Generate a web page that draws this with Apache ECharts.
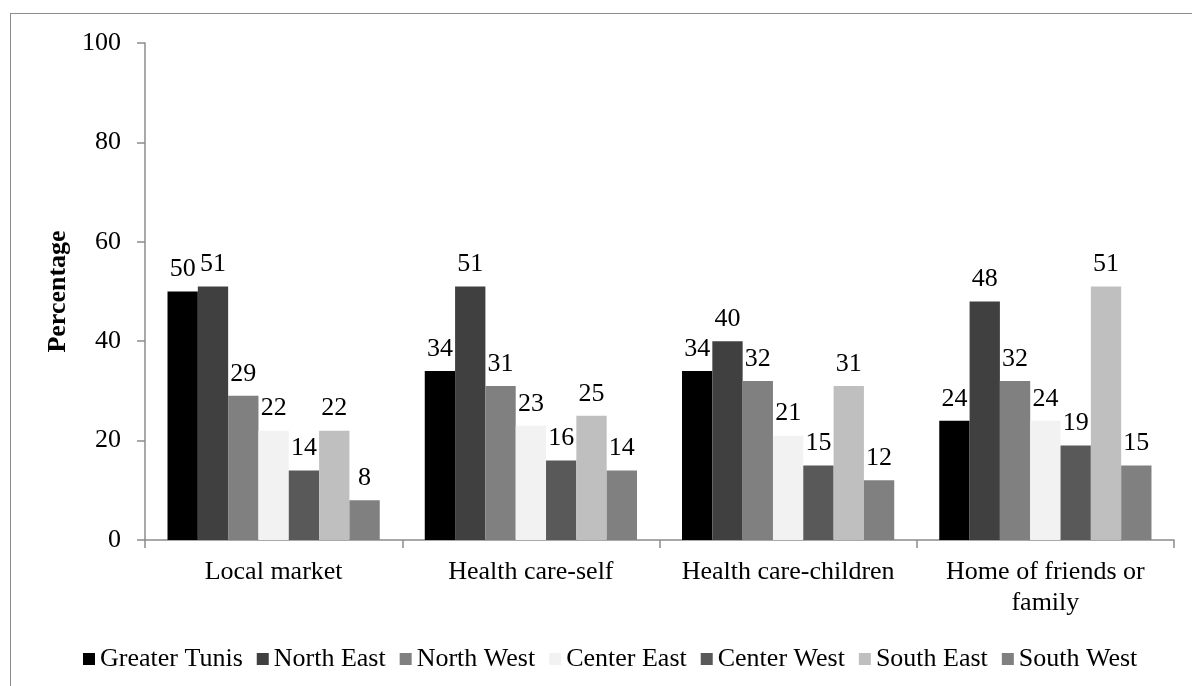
<!DOCTYPE html>
<html><head><meta charset="utf-8">
<script src="https://cdn.jsdelivr.net/npm/echarts@6/dist/echarts.min.js"></script>
<style>html,body{margin:0;padding:0;background:#fff;overflow:hidden}#frame{position:absolute;left:10px;top:13px;width:1200px;height:700px;border:1.5px solid #8c8c8c;box-sizing:border-box}#c{width:1192px;height:686px;position:absolute;left:0;top:0}</style>
</head><body><div id="frame"></div><div id="c"></div>
<script>
const categories = ['Local market', 'Health care-self', 'Health care-children', 'Home of friends or\nfamily'];
const seriesNames = ['Greater Tunis', 'North East', 'North West', 'Center East', 'Center West', 'South East', 'South West'];
const greaterTunis = [50, 34, 34, 24];
const northEast = [51, 51, 40, 48];
const northWest = [29, 31, 32, 32];
const centerEast = [22, 23, 21, 24];
const centerWest = [14, 16, 15, 19];
const southEast = [22, 25, 31, 51];
const southWest = [8, 14, 12, 15];
const yTicks = [0, 20, 40, 60, 80, 100];
const colors = ['#000000', '#404040', '#808080', '#f2f2f2', '#595959', '#bfbfbf', '#808080'];
const values = [greaterTunis, northEast, northWest, centerEast, centerWest, southEast, southWest];
const font = 'Liberation Serif';
const fs = 26;
const chart = echarts.init(document.getElementById('c'));
chart.setOption({
  animation: false,
  textStyle: { fontFamily: font },
  grid: { left: 145, right: 18, top: 43, bottom: 146 },
  legend: {
    top: 641, left: 78, itemWidth: 12, itemHeight: 12, itemGap: 14,
    icon: 'rect',
    textStyle: { fontFamily: font, fontSize: fs, color: '#000' },
    data: seriesNames
  },
  xAxis: {
    type: 'category', data: categories,
    axisLine: { lineStyle: { color: '#8c8c8c', width: 1.5 } },
    axisTick: { show: true, length: 8, lineStyle: { color: '#8c8c8c', width: 1.5 } },
    axisLabel: { interval: 0, fontFamily: font, fontSize: fs, color: '#000', margin: 17, lineHeight: 31 }
  },
  yAxis: {
    type: 'value', min: 0, max: 100, interval: 20,
    name: 'Percentage', nameLocation: 'middle', nameGap: 69, nameRotate: 90,
    nameTextStyle: { fontFamily: font, fontSize: fs, fontWeight: 'bold', color: '#000' },
    axisLine: { show: true, lineStyle: { color: '#8c8c8c', width: 1.5 } },
    axisTick: { show: true, length: 8, lineStyle: { color: '#8c8c8c', width: 1.5 } },
    splitLine: { show: false },
    axisLabel: { fontFamily: font, fontSize: fs, color: '#000', margin: 24,
      formatter: v => yTicks.includes(v) ? String(v) : '' }
  },
  series: seriesNames.map((n, i) => ({
    name: n, type: 'bar', data: values[i],
    barGap: '0%', barCategoryGap: '17.5%',
    itemStyle: { color: colors[i] },
    label: { show: true, position: 'top', distance: 9, fontFamily: font, fontSize: fs, color: '#000' }
  }))
});
</script></body></html>
